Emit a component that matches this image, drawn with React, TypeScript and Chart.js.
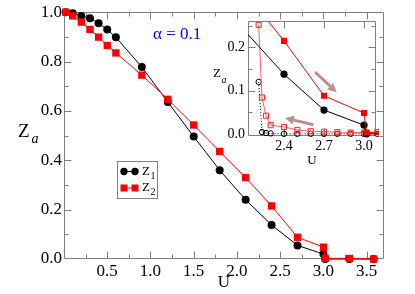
import React, { useEffect, useRef } from 'react';
import { Chart, registerables } from 'chart.js';

Chart.register(...registerables);

const SERIF = '"Liberation Serif", "Times New Roman", Times, "DejaVu Serif", serif';

// ---- data ----
const U_VALUES = [0.02, 0.1, 0.2, 0.3, 0.4, 0.5, 0.6, 0.9, 1.2, 1.5, 1.8, 2.1, 2.4, 2.7, 3.0, 3.02, 3.3, 3.58];
const Z1_VALUES = [1.0, 0.996, 0.985, 0.975, 0.955, 0.93, 0.898, 0.778, 0.636, 0.496, 0.36, 0.24, 0.138, 0.055, 0.02, 0.0, 0.0, 0.0];
const Z2_VALUES = [1.0, 0.985, 0.96, 0.93, 0.899, 0.865, 0.835, 0.745, 0.647, 0.543, 0.436, 0.33, 0.215, 0.088, 0.048, 0.003, 0.002, 0.0];

// decreasing-U branch shown only in the inset (open symbols)
const U_BACK = [2.21, 2.235, 2.265, 2.3, 2.4, 2.5, 2.6, 2.7, 2.8, 2.9, 3.0, 3.1];
const Z1_BACK = [0.12, 0.004, 0.002, 0.001, 0.0, 0.0, 0.0, 0.0, 0.0, 0.0, 0.0, 0.0];
const Z2_BACK = [0.252, 0.084, 0.042, 0.02, 0.016, 0.009, 0.006, 0.005, 0.004, 0.003, 0.003, 0.004];

// tick values
const MAIN_X_TICKS = [0.5, 1.0, 1.5, 2.0, 2.5, 3.0, 3.5];
const MAIN_X_MINOR = [0.25, 0.75, 1.25, 1.75, 2.25, 2.75, 3.25];
const MAIN_Y_TICKS = [0.0, 0.2, 0.4, 0.6, 0.8, 1.0];
const MAIN_Y_MINOR = [0.1, 0.3, 0.5, 0.7, 0.9];
const INSET_X_TICKS = [2.4, 2.7, 3.0];
const INSET_Y_TICKS = [0.0, 0.1, 0.2];
const INSET_Y_MINOR = [0.05, 0.15, 0.25];

// arrows in the inset, in data units: [fromU, fromZ, toU, toZ]
const INSET_ARROWS = [
  [2.633, 0.143, 2.795, 0.096],
  [2.62, 0.021, 2.408, 0.0365],
];

const pts = (xs: number[], ys: number[]) => xs.map((x, i) => ({ x, y: ys[i] }));

type FrameCfg = {
  xMajor: number[]; xMinor: number[]; yMajor: number[]; yMinor: number[];
  major: number; minor: number; color: string; fill?: string;
};

function makeFramePlugin(cfg: FrameCfg) {
  return {
    id: 'frame',
    beforeDraw(chart: any) {
      if (!cfg.fill) return;
      const a = chart.chartArea;
      const ctx = chart.ctx;
      ctx.save();
      ctx.fillStyle = cfg.fill;
      ctx.fillRect(a.left, a.top, a.right - a.left, a.bottom - a.top);
      ctx.restore();
    },
    beforeDatasetsDraw(chart: any) {
      const { ctx, chartArea: a } = chart;
      const xs = chart.scales.x;
      const ys = chart.scales.y;
      const L = Math.floor(a.left) + 0.5;
      const R = Math.floor(a.right) - 0.5;
      const T = Math.floor(a.top) + 0.5;
      const B = Math.floor(a.bottom) - 0.5;
      ctx.save();
      ctx.strokeStyle = cfg.color;
      ctx.lineWidth = 1;
      ctx.beginPath();
      ctx.rect(L, T, R - L, B - T);
      const xt = (vals: number[], len: number) => vals.forEach((v) => {
        const p = Math.round(xs.getPixelForValue(v)) + 0.5;
        if (p <= L + 1 || p >= R - 1) return;
        ctx.moveTo(p, B); ctx.lineTo(p, B - len);
        ctx.moveTo(p, T); ctx.lineTo(p, T + len);
      });
      const yt = (vals: number[], len: number) => vals.forEach((v) => {
        const p = Math.round(ys.getPixelForValue(v)) + 0.5;
        if (p <= T + 1 || p >= B - 1) return;
        ctx.moveTo(L, p); ctx.lineTo(L + len, p);
        ctx.moveTo(R, p); ctx.lineTo(R - len, p);
      });
      xt(cfg.xMajor, cfg.major); xt(cfg.xMinor, cfg.minor);
      yt(cfg.yMajor, cfg.major); yt(cfg.yMinor, cfg.minor);
      ctx.stroke();
      ctx.restore();
    },
  };
}

const mainDecor = {
  id: 'mainDecor',
  afterDraw(chart: any) {
    const { ctx, chartArea: a } = chart;
    ctx.save();
    ctx.fillStyle = '#000';
    ctx.textBaseline = 'alphabetic';
    // y title Z_a
    ctx.textAlign = 'left';
    ctx.font = `19px ${SERIF}`;
    ctx.fillText('Z', a.left - 46, 137);
    ctx.font = `italic 14px ${SERIF}`;
    ctx.fillText('a', a.left - 32.5, 143);
    // x title U
    ctx.textAlign = 'center';
    ctx.font = `17px ${SERIF}`;
    ctx.fillText('U', (a.left + a.right) / 2, 287);
    // alpha label
    ctx.textAlign = 'left';
    ctx.fillStyle = '#0000ff';
    ctx.font = `17px ${SERIF}`;
    ctx.fillText('\u03b1 = 0.1', a.left + 89, 38.5);
    // legend
    const bx = a.left + 53.5, by = 161.5;
    ctx.strokeStyle = '#808080';
    ctx.lineWidth = 1;
    ctx.strokeRect(bx, by, 40, 37);
    const rows = [
      { color: '#000', shape: 'circle', sub: '1', y: 171.5 },
      { color: '#ff0000', shape: 'rect', sub: '2', y: 188 },
    ];
    rows.forEach((r) => {
      const x1 = bx + 6.5, x2 = bx + 17.5;
      ctx.strokeStyle = r.color;
      ctx.fillStyle = r.color;
      ctx.beginPath();
      ctx.moveTo(x1, r.y); ctx.lineTo(x2, r.y);
      ctx.stroke();
      [x1, x2].forEach((px) => {
        ctx.beginPath();
        if (r.shape === 'circle') ctx.arc(px, r.y, 3.7, 0, Math.PI * 2);
        else ctx.rect(px - 3.5, r.y - 3.5, 7, 7);
        ctx.fill();
      });
      ctx.fillStyle = '#000';
      ctx.font = `13px ${SERIF}`;
      ctx.fillText('Z', bx + 24.5, r.y + 3);
      ctx.font = `10px ${SERIF}`;
      ctx.fillText(r.sub, bx + 33, r.y + 7);
    });
    ctx.restore();
  },
};

const insetDecor = {
  id: 'insetDecor',
  afterDatasetsDraw(chart: any) {
    const { ctx, chartArea: a } = chart;
    const xs = chart.scales.x;
    const ys = chart.scales.y;
    ctx.save();
    // arrows
    ctx.strokeStyle = '#bc8f8f';
    ctx.fillStyle = '#bc8f8f';
    ctx.lineWidth = 3;
    INSET_ARROWS.forEach(([u0, z0, u1, z1]) => {
      const x0 = xs.getPixelForValue(u0), y0 = ys.getPixelForValue(z0);
      const x1 = xs.getPixelForValue(u1), y1 = ys.getPixelForValue(z1);
      const ang = Math.atan2(y1 - y0, x1 - x0);
      const hl = 9, hw = 4.5;
      const bxp = x1 - hl * Math.cos(ang), byp = y1 - hl * Math.sin(ang);
      ctx.beginPath();
      ctx.moveTo(x0, y0); ctx.lineTo(bxp, byp);
      ctx.stroke();
      ctx.beginPath();
      ctx.moveTo(x1, y1);
      ctx.lineTo(bxp + hw * Math.sin(ang), byp - hw * Math.cos(ang));
      ctx.lineTo(bxp - hw * Math.sin(ang), byp + hw * Math.cos(ang));
      ctx.closePath();
      ctx.fill();
    });
    // titles
    ctx.fillStyle = '#000';
    ctx.textBaseline = 'alphabetic';
    ctx.textAlign = 'left';
    ctx.font = `13px ${SERIF}`;
    ctx.fillText('Z', a.left - 35, 66.5);
    ctx.font = `italic 10px ${SERIF}`;
    ctx.fillText('a', a.left - 26.5, 72.5);
    ctx.textAlign = 'center';
    ctx.font = `13px ${SERIF}`;
    ctx.fillText('U', (a.left + a.right) / 2, 153.5);
    ctx.restore();
  },
};

const noGrid = { display: false, drawTicks: false, tickLength: 0 };

export default function App() {
  const mainRef = useRef<HTMLCanvasElement>(null);
  const insetRef = useRef<HTMLCanvasElement>(null);

  useEffect(() => {
    let main: any = null;
    let inset: any = null;
    let cancelled = false;

    const build = () => {
      if (cancelled) return;
      const tickFontMain = { family: SERIF, size: 17 };
      const tickFontInset = { family: SERIF, size: 14 };

      main = new Chart(mainRef.current!, {
        type: 'line',
        data: {
          datasets: [
            {
              label: 'Z2', data: pts(U_VALUES, Z2_VALUES),
              borderColor: '#ff0000', backgroundColor: '#ff0000', borderWidth: 1,
              pointStyle: 'rect', pointRadius: 5.2, pointBorderWidth: 0, clip: false,
            },
            {
              label: 'Z1', data: pts(U_VALUES, Z1_VALUES),
              borderColor: '#000000', backgroundColor: '#000000', borderWidth: 1,
              pointStyle: 'circle', pointRadius: 4, pointBorderWidth: 0, clip: false,
            },
          ],
        },
        options: {
          animation: false,
          responsive: false,
          devicePixelRatio: 1,
          layout: { padding: { top: 8, right: 31, left: 0, bottom: 0 } },
          plugins: { legend: { display: false }, tooltip: { enabled: false } },
          scales: {
            x: {
              type: 'linear', min: 0, max: 3.7,
              afterBuildTicks: (s: any) => { s.ticks = MAIN_X_TICKS.map((v) => ({ value: v })); },
              afterFit: (s: any) => { s.height = 35; },
              border: { display: false },
              grid: noGrid,
              ticks: {
                font: tickFontMain, color: '#000', padding: 2, maxRotation: 0, autoSkip: false,
                callback: (v: any) => Number(v).toFixed(1),
              },
            },
            y: {
              type: 'linear', min: 0, max: 1.0,
              afterBuildTicks: (s: any) => { s.ticks = MAIN_Y_TICKS.map((v) => ({ value: v })); },
              afterFit: (s: any) => { s.width = 64; },
              border: { display: false },
              grid: noGrid,
              ticks: {
                font: tickFontMain, color: '#000', padding: 2, autoSkip: false,
                callback: (v: any) => Number(v).toFixed(1),
              },
            },
          },
        },
        plugins: [
          makeFramePlugin({
            xMajor: MAIN_X_TICKS, xMinor: MAIN_X_MINOR, yMajor: MAIN_Y_TICKS, yMinor: MAIN_Y_MINOR,
            major: 7, minor: 4, color: '#808080',
          }),
          mainDecor,
        ],
      } as any);

      const insetClip = { left: 0, top: 0, right: 3, bottom: 6 };
      inset = new Chart(insetRef.current!, {
        type: 'line',
        data: {
          datasets: [
            {
              label: 'Z2', data: pts(U_VALUES, Z2_VALUES),
              borderColor: '#ff0000', backgroundColor: '#ff0000', borderWidth: 1,
              pointStyle: 'rect', pointRadius: 4.3, pointBorderWidth: 0, clip: insetClip,
            },
            {
              label: 'Z1', data: pts(U_VALUES, Z1_VALUES),
              borderColor: '#000000', backgroundColor: '#000000', borderWidth: 1,
              pointStyle: 'circle', pointRadius: 3.6, pointBorderWidth: 0, clip: insetClip,
            },
            {
              label: 'Z2 back', data: pts(U_BACK, Z2_BACK),
              borderColor: '#ff6060', backgroundColor: 'rgba(0,0,0,0)', borderWidth: 1,
              pointStyle: 'rect', pointRadius: 3.6, pointBorderWidth: 1,
              pointBorderColor: '#ff2020', pointBackgroundColor: 'rgba(0,0,0,0)', clip: insetClip,
            },
            {
              label: 'Z1 back', data: pts(U_BACK, Z1_BACK),
              borderColor: '#000000', backgroundColor: 'rgba(0,0,0,0)', borderWidth: 1, borderDash: [1, 2],
              pointStyle: 'circle', pointRadius: 2.7, pointBorderWidth: 1,
              pointBorderColor: '#000000', pointBackgroundColor: 'rgba(0,0,0,0)', clip: insetClip,
            },
          ],
        },
        options: {
          animation: false,
          responsive: false,
          devicePixelRatio: 1,
          layout: { padding: { top: 5, right: 9, left: 0, bottom: 0 } },
          plugins: { legend: { display: false }, tooltip: { enabled: false } },
          scales: {
            x: {
              type: 'linear', min: 2.13, max: 3.09,
              afterBuildTicks: (s: any) => { s.ticks = INSET_X_TICKS.map((v) => ({ value: v })); },
              afterFit: (s: any) => { s.height = 34; },
              border: { display: false },
              grid: noGrid,
              ticks: {
                font: tickFontInset, color: '#000', padding: 2, maxRotation: 0, autoSkip: false,
                callback: (v: any) => Number(v).toFixed(1),
              },
            },
            y: {
              type: 'linear', min: -0.005, max: 0.26,
              afterBuildTicks: (s: any) => { s.ticks = INSET_Y_TICKS.map((v) => ({ value: v })); },
              afterFit: (s: any) => { s.width = 48; },
              border: { display: false },
              grid: noGrid,
              ticks: {
                font: tickFontInset, color: '#000', padding: 3, autoSkip: false,
                callback: (v: any) => Number(v).toFixed(1),
              },
            },
          },
        },
        plugins: [
          makeFramePlugin({
            xMajor: INSET_X_TICKS, xMinor: [], yMajor: INSET_Y_TICKS, yMinor: INSET_Y_MINOR,
            major: 7, minor: 4, color: '#808080', fill: '#ffffff',
          }),
          insetDecor,
        ],
      } as any);
    };

    const fontsApi: any = (document as any).fonts;
    if (fontsApi && fontsApi.load) {
      Promise.all([
        fontsApi.load('17px "Liberation Serif"'),
        fontsApi.load('italic 14px "Liberation Serif"'),
      ]).then(build, build);
    } else {
      build();
    }

    return () => {
      cancelled = true;
      if (main) main.destroy();
      if (inset) inset.destroy();
    };
  }, []);

  return (
    <div style={{ position: 'absolute', left: 0, top: 0, width: 415, height: 294, background: '#fff', fontFamily: SERIF }}>
      <canvas ref={mainRef} width={415} height={294}
        style={{ position: 'absolute', left: 0, top: 0, width: 415, height: 294 }} />
      <canvas ref={insetRef} width={185} height={160}
        style={{ position: 'absolute', left: 200, top: 10, width: 185, height: 160 }} />
    </div>
  );
}
